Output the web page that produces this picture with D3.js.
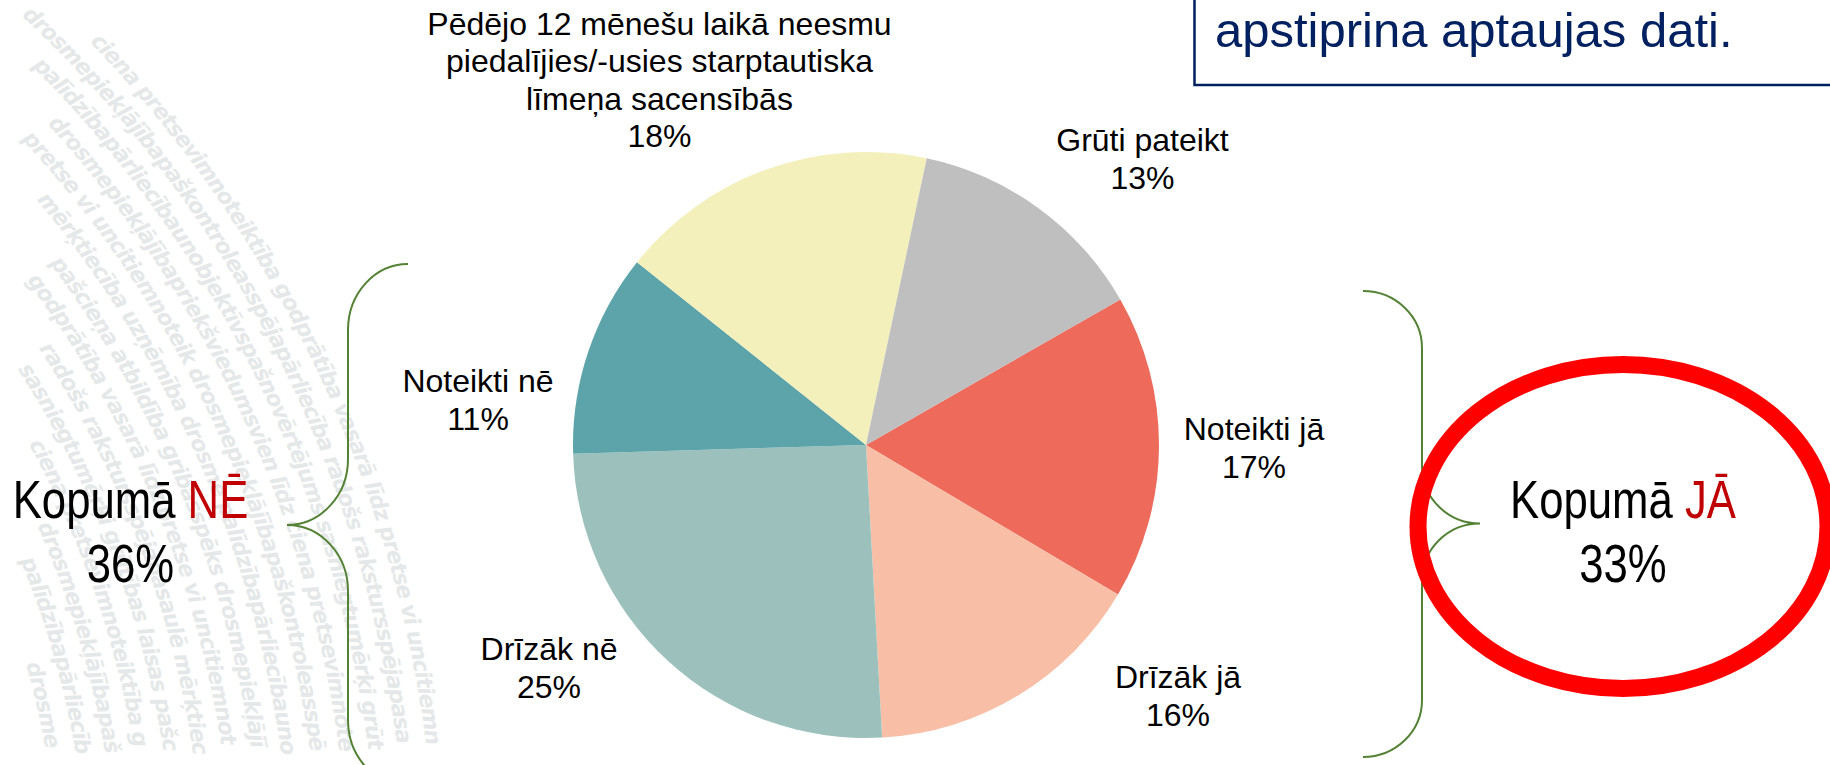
<!DOCTYPE html>
<html><head><meta charset="utf-8">
<script src="https://cdn.jsdelivr.net/npm/d3@7"></script>
<style>html,body{margin:0;padding:0;background:#fff;overflow:hidden}svg{display:block}</style>
</head><body>
<svg id="chart" width="1830" height="765"></svg>
<script>
// ---------------- DATA ----------------
const categories = ["Noteikti jā", "Drīzāk jā", "Drīzāk nē", "Noteikti nē",
  "Pēdējo 12 mēnešu laikā neesmu piedalījies/-usies starptautiska līmeņa sacensībās", "Grūti pateikt"];
const labelLines = [["Noteikti jā"], ["Drīzāk jā"], ["Drīzāk nē"], ["Noteikti nē"],
  ["Pēdējo 12 mēnešu laikā neesmu", "piedalījies/-usies starptautiska", "līmeņa sacensībās"], ["Grūti pateikt"]];
const values = [16.8, 15.6, 25.4, 11.2, 17.6, 13.4];
const yesCategories = ["Noteikti jā", "Drīzāk jā"];
const noCategories = ["Drīzāk nē", "Noteikti nē"];
const totalWord = "Kopumā";
const yesWord = "JĀ";
const noWord = "NĒ";
const boxText = "apstiprina aptaujas dati.";
const watermarkWords = ["pretse vi uncitiemnoteik", "drosmepiekļājībapriekšviedumsvien līdz",
  "palīdzībapārliecībaunobjektīvspašnovērtējums", "drosmepiekļājībapaškontroleasspējapārliecība",
  "ciena pretsevimnoteiktība", "sasniegtumērķi grūtības laisas", "radošs rakstursspējapasaulē",
  "godprātība vasarā līdz", "pašcieņa atbildība gribasspēks", "mērķtiecība uzņēmība drosme"];

// ---------------- LAYOUT / STYLE ----------------
const W = 1830, H = 765;
const sliceColors = ["#EE6A5B", "#F8BEA6", "#9CC1BC", "#5DA4AA", "#F3F0BC", "#BFBFBF"];
const pieCenter = [866, 445], pieR = 293, startDeg = 60.2;
const labelPos = [[1254, 440], [1178, 688], [549, 660], [478, 392], [659.5, 34.5], [1142.5, 151]];
const lineH = 37.6;
const labelFont = "32px 'Liberation Sans', Arial, sans-serif";

const svg = d3.select("#chart");
svg.append("rect").attr("width", W).attr("height", H).attr("fill", "#fff");

// ---------------- WATERMARK (background decoration) ----------------
const wmC = [-800, 900];
const defs = svg.append("defs");
const wmText = svg.append("text").attr("fill", "#e5e8e8").attr("letter-spacing", -1)
  .style("font", "italic bold 22px 'DejaVu Sans', sans-serif");
d3.range(830, 1250, 29).forEach((R, i) => {
  const thTop = R > 915 ? -Math.asin(885 / R) : -Math.PI / 2;
  const thLeft = -Math.acos(Math.min(1, 815 / R));
  const th0 = Math.max(thTop, thLeft);
  const th1 = -Math.asin(Math.min(1, 150 / R));
  const p = t => [wmC[0] + R * Math.cos(t), wmC[1] + R * Math.sin(t)];
  const a = p(th0), b = p(th1);
  if (th1 <= th0) return;
  defs.append("path").attr("id", "wm" + i)
    .attr("d", `M${a[0]},${a[1]} A${R},${R} 0 0 1 ${b[0]},${b[1]}`);
  let s = "";
  for (let k = 0; k < 6; k++) s += watermarkWords[(i + k * 3) % watermarkWords.length] + " ";
  wmText.append("textPath").attr("href", "#wm" + i).attr("startOffset", (i * 37) % 60).text(s);
});

// ---------------- PIE ----------------
const data = categories.map((c, i) => ({ cat: c, value: values[i], lines: labelLines[i], color: sliceColors[i], pos: labelPos[i] }));
const pie = d3.pie().value(d => d.value).sort(null)
  .startAngle(startDeg * Math.PI / 180).endAngle(startDeg * Math.PI / 180 + 2 * Math.PI);
const arc = d3.arc().innerRadius(0).outerRadius(pieR);
const arcs = pie(data);
const pg = svg.append("g").attr("transform", `translate(${pieCenter})`);
pg.selectAll("path").data(arcs).join("path").attr("d", arc).attr("fill", d => d.data.color);

const fmt = d3.format(".0f");
const lg = svg.append("g").style("font", labelFont).attr("fill", "#000").attr("text-anchor", "middle");
arcs.forEach(a => {
  const d = a.data;
  const t = lg.append("text").attr("x", d.pos[0]).attr("y", d.pos[1]);
  d.lines.concat([fmt(d.value) + "%"]).forEach((ln, j) => {
    t.append("tspan").attr("x", d.pos[0]).attr("dy", j === 0 ? 0 : lineH).text(ln);
  });
});

// ---------------- BRACES ----------------
const green = "#548235";
function brace(endX, vertX, tipX, yTop, yBot, yMid, ry, left) {
  const s1 = left ? 0 : 1, s2 = left ? 1 : 0;
  const rx1 = Math.abs(endX - vertX), rx2 = Math.abs(tipX - vertX);
  return `M${endX},${yTop} A${rx1},${ry} 0 0 ${s1} ${vertX},${yTop + ry}` +
    ` L${vertX},${yMid - ry} A${rx2},${ry} 0 0 ${s2} ${tipX},${yMid}` +
    ` A${rx2},${ry} 0 0 ${s2} ${vertX},${yMid + ry} L${vertX},${yBot - ry}` +
    ` A${rx1},${ry} 0 0 ${s1} ${endX},${yBot}`;
}
svg.append("path").attr("d", brace(408, 348, 287, 264, 786, 525, 66, true))
  .attr("fill", "none").attr("stroke", green).attr("stroke-width", 2);
svg.append("path").attr("d", brace(1363, 1422, 1480, 291, 757, 523.5, 57, false))
  .attr("fill", "none").attr("stroke", green).attr("stroke-width", 2);

// ---------------- ELLIPSE ----------------
svg.append("ellipse").attr("cx", 1623).attr("cy", 526.5).attr("rx", 205).attr("ry", 162)
  .attr("fill", "none").attr("stroke", "#FF0000").attr("stroke-width", 17);

// ---------------- TOTALS ----------------
const sumOf = list => d3.sum(data.filter(d => list.includes(d.cat)), d => +fmt(d.value));
const narrowFam = "'Liberation Sans Narrow', 'Arial Narrow', 'Liberation Sans', Arial, sans-serif";
function narrowAvailable() {
  const a = svg.append("text").style("font-family", "'Liberation Sans Narrow','Arial Narrow','Liberation Sans'").style("font-size", "50px").text("Kopumā");
  const b = svg.append("text").style("font-family", "'Liberation Sans'").style("font-size", "50px").text("Kopumā");
  const r = a.node().getComputedTextLength() / b.node().getComputedTextLength();
  a.remove(); b.remove();
  return r < 0.95;
}
const hasNarrow = narrowAvailable();
function totalBlock(cx, word, total) {
  const g = svg.append("g").attr("text-anchor", "middle")
    .style("font-family", narrowFam).style("font-size", "53.3px");
  if (!hasNarrow) g.attr("transform", `translate(${cx},0) scale(0.82,1) translate(${-cx},0)`);
  const t1 = g.append("text").attr("x", cx).attr("y", 518);
  t1.append("tspan").attr("fill", "#000").text(totalWord + " ");
  t1.append("tspan").attr("fill", "#C00000").text(word);
  g.append("text").attr("x", cx).attr("y", 582).attr("fill", "#000").text(total + "%");
}
totalBlock(130.5, noWord, sumOf(noCategories));
totalBlock(1623, yesWord, sumOf(yesCategories));

// ---------------- TOP-RIGHT BOX ----------------
svg.append("rect").attr("x", 1194.5).attr("y", -20).attr("width", 700).attr("height", 105)
  .attr("fill", "none").attr("stroke", "#002060").attr("stroke-width", 2.5);
svg.append("text").attr("x", 1215).attr("y", 46.5).attr("fill", "#002060")
  .style("font", "49px 'Liberation Sans', Arial, sans-serif").text(boxText);
</script>
</body></html>
